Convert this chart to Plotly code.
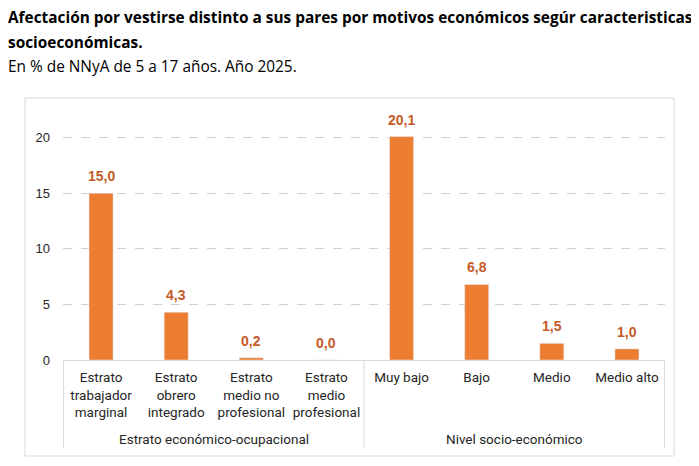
import plotly.graph_objects as go

# data
categorias = [
    "Estrato<br>trabajador<br>marginal",
    "Estrato<br>obrero<br>integrado",
    "Estrato<br>medio no<br>profesional",
    "Estrato<br>medio<br>profesional",
    "Muy bajo",
    "Bajo",
    "Medio",
    "Medio alto",
]
valores = [15.0, 4.3, 0.2, 0.0, 20.1, 6.8, 1.5, 1.0]
grupos = ["Estrato económico-ocupacional", "Nivel socio-económico"]
grupo_centros = [1.5, 5.5]
divisiones = [-0.5, 3.5, 7.5]
etiquetas = [f"{v:.1f}".replace(".", ",") for v in valores]

# page coords -> figure (the page has an 8px body margin)
OFF = 8
W, H = 699, 466
L, R = 63 - OFF, 42
T = 121 - OFF
B = H - (360 - OFF)
pw, ph = W - L - R, H - T - B


def px(x):
    return (x - OFF - L) / pw


def py(y):
    return (H - B - (y - OFF)) / ph


fig = go.Figure(go.Bar(
    x=categorias,
    y=valores,
    marker_color="#ED7D31",
    width=0.32,
))

# etiquetas de valor
for c, v, t in zip(categorias, valores, etiquetas):
    fig.add_annotation(x=c, y=v, text=f"<b>{t}</b>", showarrow=False,
                       yanchor="bottom", yshift=7,
                       font=dict(family="Liberation Sans", size=14, color="#C55A28"))

fig.update_layout(
    width=W, height=H,
    margin=dict(l=L, r=R, t=T, b=B, autoexpand=False),
    paper_bgcolor="white", plot_bgcolor="white",
    showlegend=False,
    font=dict(family="Roboto", size=13, color="#262626"),
    yaxis=dict(range=[0, 21.5], tickvals=[0, 5, 10, 15, 20], showgrid=True,
               gridcolor="#d0d0d0", griddash="dash", zeroline=False,
               tickfont=dict(family="Liberation Sans", size=13, color="#262626"),
               ticks="", ticklabelstandoff=12),
    xaxis=dict(type="category", showline=True, linecolor="#d9d9d9", ticks="",
               tickangle=0, automargin=False, ticklabelstandoff=5,
               tickfont=dict(family="Roboto", size=13.5, color="#262626")),
)

# divisores de grupos
for d in divisiones:
    fig.add_shape(type="line", xref="x", yref="paper", x0=d, x1=d,
                  y0=py(360), y1=py(448), line=dict(color="#d9d9d9", width=1))

for g, c in zip(grupos, grupo_centros):
    fig.add_annotation(text=g, xref="x", yref="paper", x=c, y=py(439),
                       xanchor="center", yanchor="middle", showarrow=False,
                       font=dict(family="Roboto", size=13.5, color="#262626"))

# marco exterior
fig.add_shape(type="rect", xref="paper", yref="paper",
              x0=px(25), x1=px(674), y0=py(456), y1=py(98),
              line=dict(color="#d9d9d9", width=1), layer="below")

titulos = [
    ("Afectación por vestirse distinto a sus pares por motivos económicos segúr caracteristicas", 18, True),
    ("socioeconómicas.", 42, True),
    ("En % de NNyA de 5 a 17 años. Año 2025.", 66, False),
]
for txt, y, bold in titulos:
    fig.add_annotation(text=f"<b>{txt}</b>" if bold else txt, xref="paper", yref="paper",
                       x=px(6), y=py(y), xanchor="left", yanchor="middle", showarrow=False,
                       font=dict(family="Open Sans", size=15.4, color="#000000"))

fig.write_html("out.html")
